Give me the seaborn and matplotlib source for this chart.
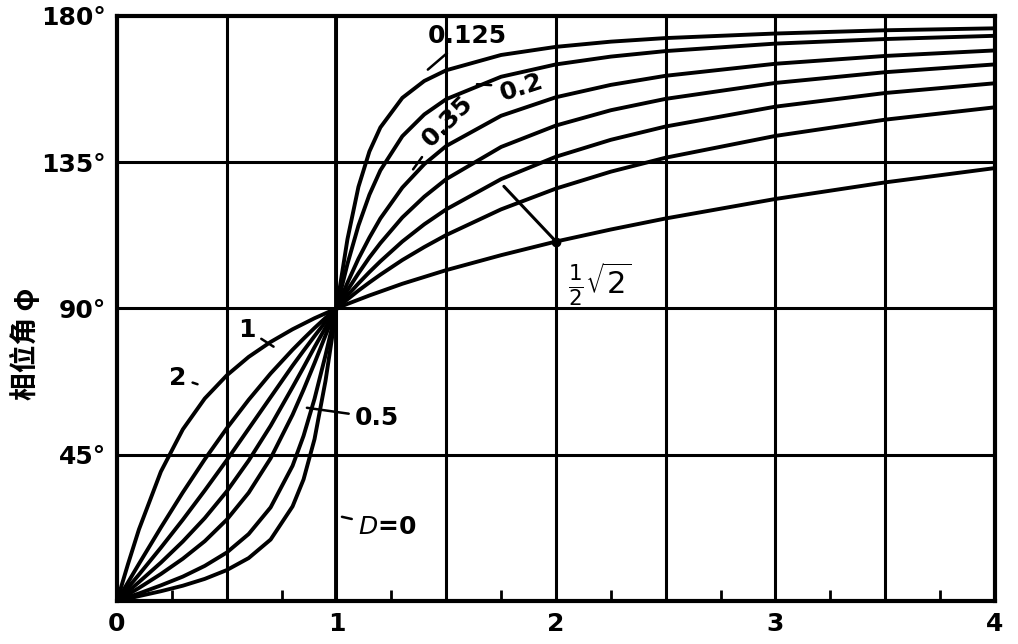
import matplotlib
matplotlib.use("Agg")
import matplotlib.pyplot as plt
import numpy as np
import pandas as pd
import seaborn as sns

# frequency ratio (x) values at which curves were read
r = [0, 0.05, 0.1, 0.2, 0.3, 0.4, 0.5, 0.6, 0.7, 0.8, 0.85, 0.9, 0.95, 1.0,
     1.05, 1.1, 1.15, 1.2, 1.3, 1.4, 1.5, 1.75, 2.0, 2.25, 2.5, 3.0, 3.5, 4.0]

# phase angle (degrees) read for each damping ratio D
phi_D0125 = [0, 0.7, 1.5, 3.0, 4.7, 6.8, 9.5, 13.2, 18.9, 29.1, 37.4, 49.8, 67.7, 90,
             111.3, 127.4, 138.3, 145.7, 154.8, 160.0, 163.3, 168.0, 170.5, 172.1, 173.2, 174.6, 175.6, 176.2]
phi_D02 = [0, 1.2, 2.3, 4.8, 7.5, 10.8, 14.9, 20.6, 28.8, 41.6, 50.8, 62.2, 75.6, 90,
           103.7, 115.5, 125.0, 132.5, 143.0, 149.7, 154.4, 161.3, 165.1, 167.5, 169.2, 171.5, 172.9, 173.9]
phi_D035 = [0, 2.0, 4.0, 8.3, 13.0, 18.4, 25.0, 33.3, 43.9, 57.3, 65.0, 73.2, 81.7, 90,
            97.9, 105.3, 111.8, 117.7, 127.2, 134.4, 140.0, 149.3, 155.0, 158.8, 161.6, 165.3, 167.7, 169.4]
phi_D05 = [0, 2.9, 5.8, 11.8, 18.3, 25.5, 33.7, 43.2, 53.9, 65.8, 71.9, 78.1, 84.1, 90,
           95.6, 100.8, 105.7, 110.1, 118.0, 124.4, 129.8, 139.7, 146.3, 151.0, 154.5, 159.4, 162.7, 165.1]
phi_D0707 = [0, 4.1, 8.1, 16.4, 25.0, 34.0, 43.3, 53.0, 62.7, 72.4, 77.0, 81.5, 85.9, 90,
             94.0, 97.7, 101.2, 104.5, 110.6, 115.9, 120.5, 129.8, 136.7, 141.9, 146.0, 152.1, 156.3, 159.3]
phi_D1 = [0, 5.7, 11.4, 22.6, 33.4, 43.6, 53.1, 61.9, 70.0, 77.3, 80.7, 84.0, 87.1, 90,
          92.8, 95.5, 98.0, 100.4, 104.9, 108.9, 112.6, 120.5, 126.9, 132.1, 136.4, 143.1, 148.1, 151.9]
phi_D2 = [0, 11.3, 22.0, 39.8, 52.8, 62.3, 69.4, 75.1, 79.7, 83.6, 85.3, 87.0, 88.5, 90,
          91.4, 92.7, 94.0, 95.2, 97.6, 99.7, 101.8, 106.4, 110.6, 114.3, 117.7, 123.7, 128.8, 133.2]
# D = 0 (undamped): step at r = 1
r_D0 = [0, 1, 1, 4]
phi_D0 = [0, 0, 180, 180]

series = {"0.125": phi_D0125, "0.2": phi_D02, "0.35": phi_D035, "0.5": phi_D05,
          "0.707": phi_D0707, "1": phi_D1, "2": phi_D2}
frames = [pd.DataFrame({"r": r, "phi": v, "D": k}) for k, v in series.items()]
frames.append(pd.DataFrame({"r": r_D0, "phi": phi_D0, "D": "0"}))
df = pd.concat(frames, ignore_index=True)

x_ticks = [0, 1, 2, 3, 4]
x_ticklabels = ["0", "1", "2", "3", "4"]
y_ticks = [45, 90, 135, 180]
y_ticklabels = ["45°", "90°", "135°", "180°"]

sns.set_theme(style="white")
plt.rcParams["font.family"] = ["DejaVu Sans"]
plt.rcParams["text.color"] = "black"
plt.rcParams["xtick.color"] = "black"
plt.rcParams["ytick.color"] = "black"
plt.rcParams["axes.labelcolor"] = "black"

fig = plt.figure(figsize=(10.18, 6.44), dpi=100)
ax = fig.add_axes([0.1149, 0.0668, 0.8625, 0.9084])

# grid
for gx in [0.5, 1, 1.5, 2, 2.5, 3, 3.5]:
    ax.axvline(gx, color="black", lw=2.2, zorder=1)
for gy in [45, 90, 135]:
    ax.axhline(gy, color="black", lw=2.2, zorder=1)

sns.lineplot(data=df, x="r", y="phi", units="D", estimator=None, sort=False,
             color="black", linewidth=2.8, ax=ax, zorder=3)

ax.set_xlim(0, 4)
ax.set_ylim(0, 180)
ax.set_xticks(x_ticks)
ax.set_xticklabels(x_ticklabels, fontsize=18, fontweight="bold", color="black")
ax.set_yticks(y_ticks)
ax.set_yticklabels(y_ticklabels, fontsize=18, fontweight="bold", color="black")
ax.set_xticks(np.arange(0.25, 4, 0.5), minor=True)
ax.tick_params(axis="both", which="major", length=0, pad=8)
ax.tick_params(axis="x", which="minor", direction="in", length=8, width=2, color="black", bottom=True)
for s in ax.spines.values():
    s.set_visible(True)
    s.set_color("black")
    s.set_linewidth(3)

ax.set_xlabel("")
ax.set_ylabel("相位角 φ", fontsize=20, fontweight="bold", color="black",
              family=["Noto Sans CJK SC", "DejaVu Sans"])
ax.yaxis.set_label_coords(-0.088, 0.44)

ap = dict(arrowstyle="-", color="black", lw=1.8)
tk = dict(fontsize=18, fontweight="bold", color="black")
ax.annotate("0.125", xy=(1.349, 159.6), xytext=(1.594, 173.8), ha="center", va="center",
            arrowprops=dict(ap, shrinkB=14), **tk)
ax.annotate("0.2", xy=(1.64, 159.0), xytext=(1.845, 158.1), ha="center", va="center",
            rotation=18, arrowprops=dict(ap, shrinkB=12), **tk)
ax.annotate("0.35", xy=(1.349, 132.8), xytext=(1.508, 147.6), ha="center", va="center",
            rotation=45, arrowprops=dict(ap, shrinkB=18), **tk)
ax.annotate(r"$\frac{1}{2}\sqrt{2}$", xy=(1.754, 128.2), xytext=(2.2, 97.4),
            ha="center", va="center", fontsize=22, color="black")
ax.annotate("", xy=(1.754, 128.2), xytext=(2.0, 110.6), arrowprops=dict(ap, lw=2.2))
ax.plot([2.0], [110.6], "o", color="black", ms=6, zorder=4)
ax.annotate("1", xy=(0.756, 76.4), xytext=(0.592, 83.5), ha="center", va="center",
            arrowprops=dict(ap, shrinkB=8), **tk)
ax.annotate("2", xy=(0.415, 65.6), xytext=(0.278, 68.7), ha="center", va="center",
            arrowprops=dict(ap, shrinkB=8), **tk)
ax.annotate("0.5", xy=(0.765, 60.4), xytext=(1.184, 56.4), ha="center", va="center",
            arrowprops=dict(ap, shrinkB=16), **tk)
ax.annotate(r"$D$=0", xy=(1.025, 25.9), xytext=(1.23, 22.8), ha="center", va="center",
            arrowprops=dict(ap, shrinkB=24), **tk)

fig.savefig("out.png", dpi=100, facecolor="white")
